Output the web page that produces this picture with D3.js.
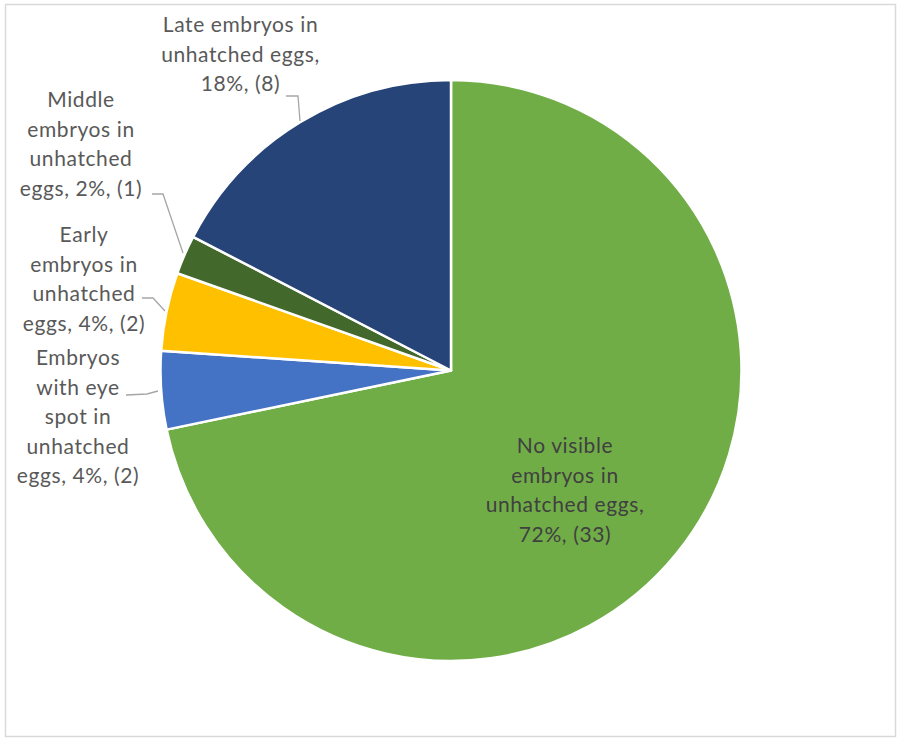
<!DOCTYPE html>
<html>
<head>
<meta charset="utf-8">
<script src="https://cdn.jsdelivr.net/npm/d3@7"></script>
<style>
  html, body { margin: 0; padding: 0; background: #fff; }
  svg { display: block; }
  text { font-family: Lato, "Open Sans", sans-serif; }
</style>
</head>
<body>
<svg id="chart" width="898" height="739"></svg>
<script>
// Unhatched egg categories, counts and printed percentages
const categories = [
  "No visible embryos in unhatched eggs",
  "Embryos with eye spot in unhatched eggs",
  "Early embryos in unhatched eggs",
  "Middle embryos in unhatched eggs",
  "Late embryos in unhatched eggs"
];
const counts = [33, 2, 2, 1, 8];
const percentLabels = ["72%", "4%", "4%", "2%", "18%"];
const colors = ["#70AD47", "#4472C4", "#FFC000", "#43682B", "#264478"];

// Wrapped label lines for each slice
const labelLines = [
  ["No visible", "embryos in", "unhatched eggs,", "72%, (33)"],
  ["Embryos", "with eye", "spot in", "unhatched", "eggs, 4%, (2)"],
  ["Early", "embryos in", "unhatched", "eggs, 4%, (2)"],
  ["Middle", "embryos in", "unhatched", "eggs, 2%, (1)"],
  ["Late embryos in", "unhatched eggs,", "18%, (8)"]
];

const svg = d3.select("#chart");

// Chart frame
svg.append("rect")
  .attr("x", 5.5).attr("y", 4.5)
  .attr("width", 890).attr("height", 732)
  .attr("fill", "#fff")
  .attr("stroke", "#d9d9d9")
  .attr("stroke-width", 1.5);

const cx = 451, cy = 370.5, R = 290.5;

const data = categories.map((c, i) => ({ name: c, value: counts[i], color: colors[i], lines: labelLines[i] }));

const pie = d3.pie().value(d => d.value).sort(null).startAngle(0).endAngle(2 * Math.PI);
const arcs = pie(data);
const arc = d3.arc().innerRadius(0).outerRadius(R);

const g = svg.append("g").attr("transform", `translate(${cx},${cy})`);

g.selectAll("path.slice")
  .data(arcs)
  .join("path")
  .attr("class", "slice")
  .attr("d", arc)
  .attr("fill", d => d.data.color)
  .attr("stroke", "#fff")
  .attr("stroke-width", 2.5)
  .attr("stroke-linejoin", "round");

// Label placement: anchor (center x, first baseline) and leader line points
const labelPos = [
  { x: 565, y: 453, fill: "#404040", leader: null },
  { x: 78, y: 365, fill: "#595959", leader: [[126, 395], [147, 394], [158, 391]] },
  { x: 84, y: 242, fill: "#595959", leader: [[142, 298], [153, 298], [165, 311]] },
  { x: 81, y: 107, fill: "#595959", leader: [[152, 194], [163, 194], [183, 253]] },
  { x: 240.5, y: 32, fill: "#595959", leader: [[286, 96], [298, 96], [300, 121]] }
];
const lineGap = 29.5;

arcs.forEach((a, i) => {
  const p = labelPos[i];
  if (p.leader) {
    svg.append("path")
      .attr("d", d3.line()(p.leader))
      .attr("fill", "none")
      .attr("stroke", "#a6a6a6")
      .attr("stroke-width", 1.3);
  }
  const t = svg.append("text")
    .attr("text-anchor", "middle")
    .attr("font-size", 21)
    .attr("letter-spacing", 0.6)
    .attr("fill", p.fill);
  a.data.lines.forEach((ln, k) => {
    t.append("tspan").attr("x", p.x).attr("y", p.y + k * lineGap).text(ln);
  });
});
</script>
</body>
</html>
